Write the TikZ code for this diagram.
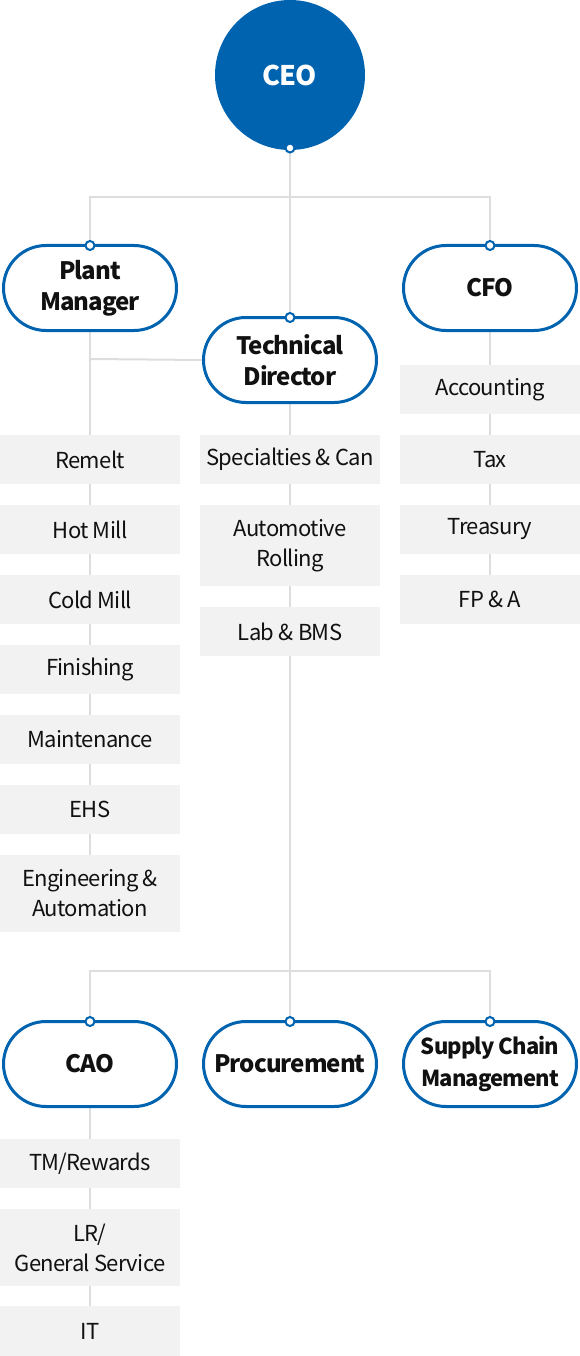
\documentclass[tikz,border=0pt]{standalone}
\usepackage{fontspec}
\setmainfont{Noto Sans CJK KR}
\newfontfamily\pillfont[LetterSpace=-4]{Noto Sans CJK KR}
\newfontfamily\boxfont[LetterSpace=-3]{Noto Sans CJK KR}
\usetikzlibrary{calc}
\definecolor{brand}{HTML}{0063AF}
\definecolor{conn}{HTML}{DDDDDD}
\definecolor{boxfill}{HTML}{F2F2F2}
\definecolor{txt}{HTML}{111111}
\pgfdeclarelayer{bg}\pgfsetlayers{bg,main}
\tikzset{
  ceobox/.style={circle, fill=brand, minimum size=150pt, inner sep=0pt, text=white, font=\pillfont\fontsize{27}{30}\selectfont\bfseries},
  pill/.style={draw=brand, line width=3pt, fill=white, rounded corners=42.5pt, minimum width=173pt, minimum height=85pt, inner sep=0pt, outer sep=0pt, align=center, text=txt, font=\pillfont\fontsize{24}{31}\selectfont\bfseries},
  gbox/.style={fill=boxfill, minimum width=180pt, minimum height=49pt, inner sep=0pt, align=center, text=txt, font=\boxfont\fontsize{22}{30}\selectfont},
  tall/.style={minimum height=77pt},
  dot/.style={circle, draw=brand, fill=white, line width=2pt, minimum size=9pt, inner sep=0pt},
  link/.style={draw=conn, line width=2pt}
}
\begin{document}
\begin{tikzpicture}[x=1pt,y=-1pt]
\useasboundingbox (0,0) rectangle (580,1356);
% top
\node[ceobox] (ceo) at (290,75) {CEO};
\node[pill] (pm) at (90,288) {Plant\\Manager};
\node[pill] (td) at (290,360) {Technical\\Director};
\node[pill] (cfo) at (490,288) {CFO};
% left column
\node[gbox] (remelt) at (90,459.5) {Remelt};
\node[gbox] (hot) at (90,529.5) {Hot Mill};
\node[gbox] (cold) at (90,599.5) {Cold Mill};
\node[gbox] (fin) at (90,669.5) {Finishing};
\node[gbox] (mnt) at (90,739.5) {Maintenance};
\node[gbox] (ehs) at (90,809.5) {EHS};
\node[gbox,tall] (eng) at (90,893.5) {Engineering \&\\Automation};
% middle column
\node[gbox] (spec) at (290,459.5) {Specialties \& Can};
\node[gbox,minimum height=81pt] (auto) at (290,545.5) {Automotive\\Rolling};
\node[gbox] (lab) at (290,631.5) {Lab \& BMS};
% right column
\node[gbox] (acc) at (490,389.5) {Accounting};
\node[gbox] (tax) at (490,459.5) {Tax};
\node[gbox] (trs) at (490,529.5) {Treasury};
\node[gbox] (fpa) at (490,599.5) {FP \& A};
% bottom
\node[pill] (cao) at (90,1064) {CAO};
\node[pill] (proc) at (290,1064) {Procurement};
\node[pill,font=\pillfont\fontsize{22}{32}\selectfont\bfseries] (scm) at (490,1064) {Supply Chain\\Management};
\node[gbox] (tm) at (90,1163.5) {TM/Rewards};
\node[gbox,tall] (lr) at (90,1247.5) {LR/\\General Service};
\node[gbox,minimum height=50pt] (it) at (90,1331) {IT};
% dots
\node[dot] (dceo) at (290,148) {};
\node[dot] (dpm) at (pm.north) {};
\node[dot] (dtd) at (td.north) {};
\node[dot] (dcfo) at (cfo.north) {};
\node[dot] (dcao) at (cao.north) {};
\node[dot] (dproc) at (proc.north) {};
\node[dot] (dscm) at (scm.north) {};
% connectors
\coordinate (j1l) at (90,197);
\coordinate (j1r) at (490,197);
\coordinate (pmj) at (90,359);
\coordinate (j2l) at (90,971);
\coordinate (j2r) at (490,971);
\begin{pgfonlayer}{bg}
\draw[link] (dceo) -- (td.north);
\draw[link] (pm.north) -- (j1l) -- (j1r) -- (cfo.north);
\draw[link] (pm.south) -- (eng.north);
\draw[link] (td.west) -- (pmj);
\draw[link] (td.south) -- (proc.north);
\draw[link] (cfo.south) -- (fpa.north);
\draw[link] (cao.north) -- (j2l) -- (j2r) -- (scm.north);
\draw[link] (cao.south) -- (it.north);
\end{pgfonlayer}
\end{tikzpicture}
\end{document}
